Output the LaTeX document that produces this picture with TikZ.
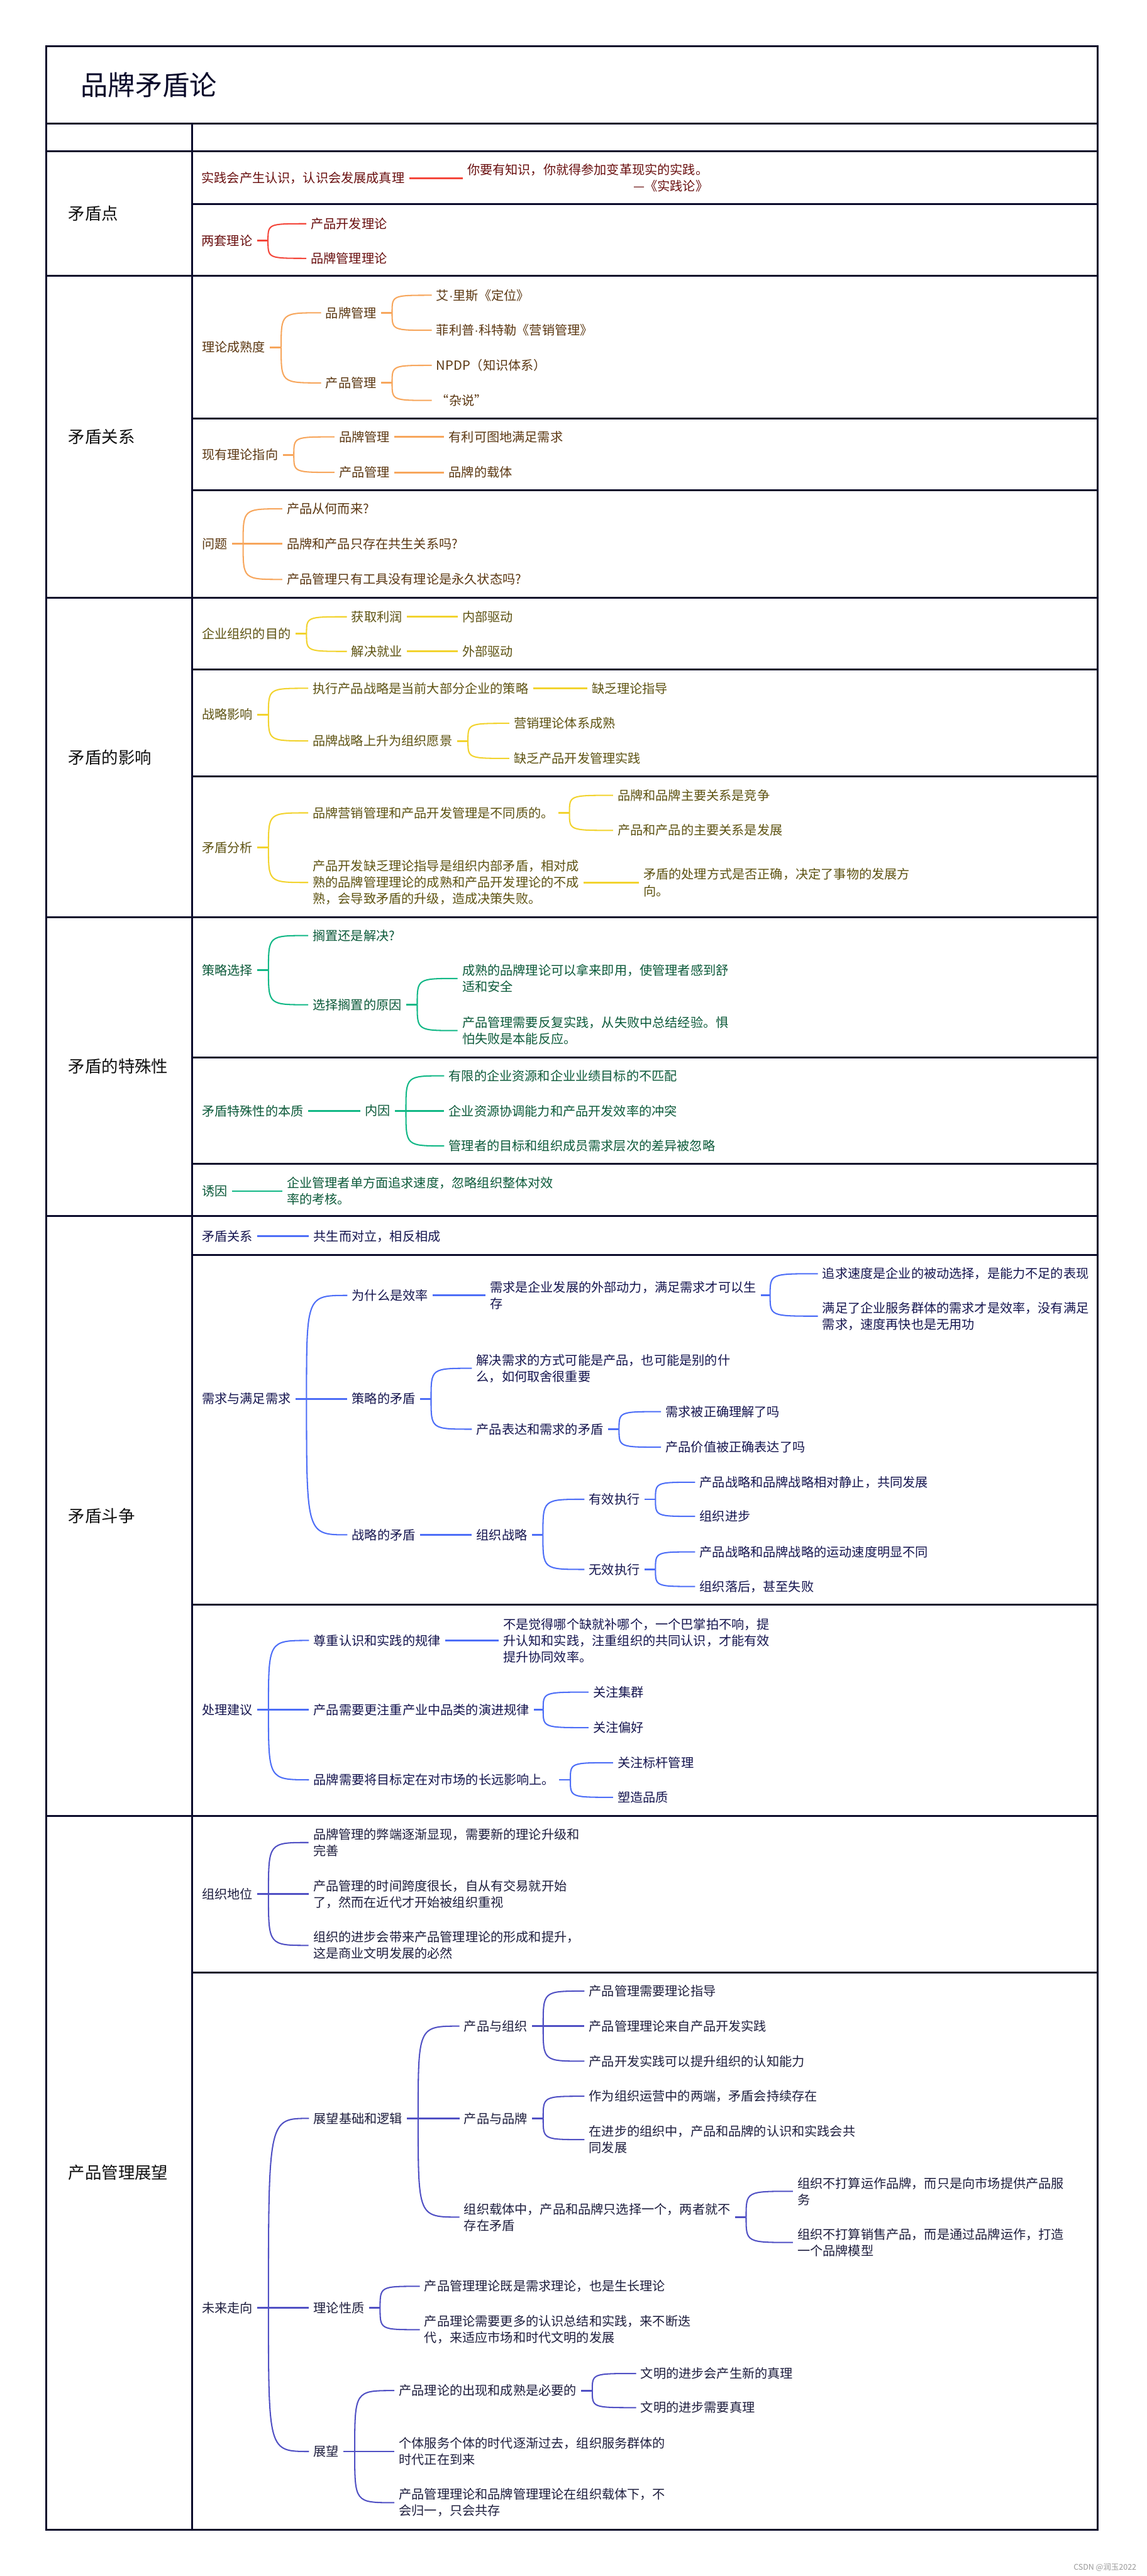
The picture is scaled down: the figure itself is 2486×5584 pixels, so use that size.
\documentclass[tikz,border=0pt]{standalone}
\usepackage{fontspec}
\setmainfont{Noto Sans CJK SC}
\newfontfamily\latf{Liberation Sans}
\usetikzlibrary{calc}
\definecolor{frameC}{HTML}{0A0A2A}
\definecolor{redL}{HTML}{F4473B}
\definecolor{redT}{HTML}{6A1010}
\definecolor{orgL}{HTML}{F7A65C}
\definecolor{orgT}{HTML}{5C3812}
\definecolor{yelL}{HTML}{F2D32E}
\definecolor{yelT}{HTML}{5E5312}
\definecolor{grnL}{HTML}{12B886}
\definecolor{grnT}{HTML}{0C5A3A}
\definecolor{bluL}{HTML}{4D6EF7}
\definecolor{bluT}{HTML}{15154F}
\definecolor{indL}{HTML}{5050C4}
\definecolor{indT}{HTML}{1E1E3E}
\definecolor{lblC}{HTML}{111111}
\newcommand{\mdot}{{\latf ·}}
\tikzset{
  base/.style={font=\fontsize{13.75pt}{17.75pt}\selectfont, anchor=west, inner sep=0pt, outer sep=5pt, xshift=-5pt, align=left},
  brc/.style={to path={.. controls (\tikztostart |- \tikztotarget) and (\tikztostart |- \tikztotarget) .. (\tikztotarget)}},
  frm/.style={draw=frameC, line width=2pt},
  lbl/.style={font=\fontsize{18pt}{22pt}\selectfont, text=lblC, anchor=west, inner sep=0pt},
  sec/.style 2 args={nd/.style={base, text=#2}, ln/.style={draw=#1, line width=2pt}, cv/.style={draw=#1, line width=1.4pt}},
}
\begin{document}
\begin{tikzpicture}[x=0.5pt,y=-0.5pt]
\fill[white] (0,0) rectangle (2486,5584);
% frame
\draw[frm] (100,100) rectangle (2380,5484);
\foreach \yy in {268,328,598,1296,1988,2636,3936}{\draw[frm] (100,\yy) -- (2380,\yy);}
\draw[frm] (416,268) -- (416,5484);
\foreach \yy in {443,907,1063,1451,1683,2292,2523,2720,3479,4276}{\draw[frm] (416,\yy) -- (2380,\yy);}
% title and labels
\node[anchor=west, inner sep=0pt, font=\fontsize{29.5pt}{34pt}\selectfont, text=frameC] (title) at (175,184) {品牌矛盾论};
\node[lbl] (L1) at (148,463) {矛盾点};
\node[lbl] (L2) at (148,947) {矛盾关系};
\node[lbl] (L3) at (148,1642) {矛盾的影响};
\node[lbl] (L4) at (148,2312) {矛盾的特殊性};
\node[lbl] (L5) at (148,3286) {矛盾斗争};
\node[lbl] (L6) at (148,4710) {产品管理展望};

% ---------- red
\begin{scope}[sec={redL}{redT}]
\node[nd] (r1) at (437,386) {实践会产生认识，认识会发展成真理};
\node[nd, align=right] (r2) at (1013,386) {你要有知识，你就得参加变革现实的实践。\\—《实践论》};
\draw[ln] (r1.east) -- (r2.west);
\node[nd] (r3) at (437,522) {两套理论};
\node[nd] (r4) at (674,485) {产品开发理论};
\node[nd] (r5) at (674,560) {品牌管理理论};
\coordinate (rb) at ([xshift=12pt]r3.east);
\draw[ln] (r3.east) -- (rb);
\draw[cv] (rb) to[brc] (r4.west);
\draw[cv] (rb) to[brc] (r5.west);
\end{scope}

% ---------- orange
\begin{scope}[sec={orgL}{orgT}]
\node[nd] (o1) at (438,753) {理论成熟度};
\node[nd] (o2) at (706,678) {品牌管理};
\node[nd] (o3) at (946,640) {艾\mdot 里斯《定位》};
\node[nd] (o4) at (946,716) {菲利普\mdot 科特勒《营销管理》};
\node[nd] (o5) at (706,830) {产品管理};
\node[nd] (o6) at (946,792) {NPDP（知识体系）};
\node[nd] (o7) at (946,868) {“杂说”};
\coordinate (ob1) at ([xshift=12pt]o1.east);
\coordinate (ob2) at ([xshift=12pt]o2.east);
\coordinate (ob3) at ([xshift=12pt]o5.east);
\draw[ln] (o1.east) -- (ob1);
\draw[cv] (ob1) to[brc] (o2.west);
\draw[cv] (ob1) to[brc] (o5.west);
\draw[ln] (o2.east) -- (ob2);
\draw[cv] (ob2) to[brc] (o3.west);
\draw[cv] (ob2) to[brc] (o4.west);
\draw[ln] (o5.east) -- (ob3);
\draw[cv] (ob3) to[brc] (o6.west);
\draw[cv] (ob3) to[brc] (o7.west);
\node[nd] (o8) at (438,986) {现有理论指向};
\node[nd] (o9) at (735,947) {品牌管理};
\node[nd] (o10) at (973,947) {有利可图地满足需求};
\node[nd] (o11) at (735,1024) {产品管理};
\node[nd] (o12) at (973,1024) {品牌的载体};
\coordinate (ob4) at ([xshift=12pt]o8.east);
\draw[ln] (o8.east) -- (ob4);
\draw[cv] (ob4) to[brc] (o9.west);
\draw[cv] (ob4) to[brc] (o11.west);
\draw[ln] (o9.east) -- (o10.west);
\draw[ln] (o11.east) -- (o12.west);
\node[nd] (o13) at (438,1179) {问题};
\node[nd] (o14) at (622,1103) {产品从何而来?};
\node[nd] (o15) at (622,1179) {品牌和产品只存在共生关系吗?};
\node[nd] (o16) at (622,1256) {产品管理只有工具没有理论是永久状态吗?};
\coordinate (ob5) at ([xshift=12pt]o13.east);
\draw[ln] (o13.east) -- (ob5);
\draw[cv] (ob5) to[brc] (o14.west);
\draw[ln] (ob5) -- (o15.west);
\draw[cv] (ob5) to[brc] (o16.west);
\end{scope}

% ---------- yellow
\begin{scope}[sec={yelL}{yelT}]
\node[nd] (y1) at (438,1374) {企业组织的目的};
\node[nd] (y2) at (762,1337) {获取利润};
\node[nd] (y3) at (1002,1337) {内部驱动};
\node[nd] (y4) at (762,1412) {解决就业};
\node[nd] (y5) at (1002,1412) {外部驱动};
\coordinate (yb1) at ([xshift=12pt]y1.east);
\draw[ln] (y1.east) -- (yb1);
\draw[cv] (yb1) to[brc] (y2.west);
\draw[cv] (yb1) to[brc] (y4.west);
\draw[ln] (y2.east) -- (y3.west);
\draw[ln] (y4.east) -- (y5.west);
\node[nd] (y6) at (438,1549) {战略影响};
\node[nd] (y7) at (678,1492) {执行产品战略是当前大部分企业的策略};
\node[nd] (y8) at (1283,1492) {缺乏理论指导};
\node[nd] (y9) at (678,1606) {品牌战略上升为组织愿景};
\node[nd] (y10) at (1114,1568) {营销理论体系成熟};
\node[nd] (y11) at (1114,1644) {缺乏产品开发管理实践};
\coordinate (yb2) at ([xshift=12pt]y6.east);
\coordinate (yb3) at ([xshift=12pt]y9.east);
\draw[ln] (y6.east) -- (yb2);
\draw[cv] (yb2) to[brc] (y7.west);
\draw[cv] (yb2) to[brc] (y9.west);
\draw[ln] (y7.east) -- (y8.west);
\draw[ln] (y9.east) -- (yb3);
\draw[cv] (yb3) to[brc] (y10.west);
\draw[cv] (yb3) to[brc] (y11.west);
\node[nd] (y12) at (438,1837) {矛盾分析};
\node[nd] (y13) at (678,1762) {品牌营销管理和产品开发管理是不同质的。};
\node[nd] (y14) at (1339,1724) {品牌和品牌主要关系是竞争};
\node[nd] (y15) at (1339,1800) {产品和产品的主要关系是发展};
\node[nd] (y16) at (678,1913) {产品开发缺乏理论指导是组织内部矛盾，相对成\\熟的品牌管理理论的成熟和产品开发理论的不成\\熟，会导致矛盾的升级，造成决策失败。};
\node[nd] (y17) at (1395,1913) {矛盾的处理方式是否正确，决定了事物的发展方\\向。};
\coordinate (yb4) at ([xshift=12pt]y12.east);
\coordinate (yb5) at ([xshift=12pt]y13.east);
\draw[ln] (y12.east) -- (yb4);
\draw[cv] (yb4) to[brc] (y13.west);
\draw[cv] (yb4) to[brc] (y16.west);
\draw[ln] (y13.east) -- (yb5);
\draw[cv] (yb5) to[brc] (y14.west);
\draw[cv] (yb5) to[brc] (y15.west);
\draw[ln] (y16.east) -- (y17.west);
\end{scope}

% ---------- green
\begin{scope}[sec={grnL}{grnT}]
\node[nd] (g1) at (438,2103) {策略选择};
\node[nd] (g2) at (678,2028) {搁置还是解决?};
\node[nd] (g3) at (678,2178) {选择搁置的原因};
\node[nd] (g4) at (1002,2121) {成熟的品牌理论可以拿来即用，使管理者感到舒\\适和安全};
\node[nd] (g5) at (1002,2234) {产品管理需要反复实践，从失败中总结经验。惧\\怕失败是本能反应。};
\coordinate (gb1) at ([xshift=12pt]g1.east);
\coordinate (gb2) at ([xshift=12pt]g3.east);
\draw[ln] (g1.east) -- (gb1);
\draw[cv] (gb1) to[brc] (g2.west);
\draw[cv] (gb1) to[brc] (g3.west);
\draw[ln] (g3.east) -- (gb2);
\draw[cv] (gb2) to[brc] (g4.west);
\draw[cv] (gb2) to[brc] (g5.west);
\node[nd] (g6) at (438,2408) {矛盾特殊性的本质};
\node[nd] (g7) at (791,2408) {内因};
\node[nd] (g8) at (973,2332) {有限的企业资源和企业业绩目标的不匹配};
\node[nd] (g9) at (973,2408) {企业资源协调能力和产品开发效率的冲突};
\node[nd] (g10) at (973,2484) {管理者的目标和组织成员需求层次的差异被忽略};
\coordinate (gb3) at ([xshift=12pt]g7.east);
\draw[ln] (g6.east) -- (g7.west);
\draw[ln] (g7.east) -- (gb3);
\draw[cv] (gb3) to[brc] (g8.west);
\draw[ln] (gb3) -- (g9.west);
\draw[cv] (gb3) to[brc] (g10.west);
\node[nd] (g11) at (438,2582) {诱因};
\node[nd] (g12) at (622,2582) {企业管理者单方面追求速度，忽略组织整体对效\\率的考核。};
\draw[ln] (g11.east) -- (g12.west);
\end{scope}

% ---------- blue
\begin{scope}[sec={bluL}{bluT}]
\node[nd] (b1) at (438,2680) {矛盾关系};
\node[nd] (b2) at (680,2680) {共生而对立，相反相成};
\draw[ln] (b1.east) -- (b2.west);
\node[nd] (b3) at (438,3032) {需求与满足需求};
\node[nd] (b4) at (763,2808) {为什么是效率};
\node[nd] (b5) at (1062,2808) {需求是企业发展的外部动力，满足需求才可以生\\存};
\node[nd] (b6) at (1783,2761) {追求速度是企业的被动选择，是能力不足的表现};
\node[nd] (b7) at (1783,2853) {满足了企业服务群体的需求才是效率，没有满足\\需求，速度再快也是无用功};
\node[nd] (b8) at (763,3032) {策略的矛盾};
\node[nd] (b9) at (1033,2966) {解决需求的方式可能是产品，也可能是别的什\\么，如何取舍很重要};
\node[nd] (b10) at (1033,3098) {产品表达和需求的矛盾};
\node[nd] (b11) at (1443,3060) {需求被正确理解了吗};
\node[nd] (b12) at (1443,3137) {产品价值被正确表达了吗};
\node[nd] (b13) at (763,3327) {战略的矛盾};
\node[nd] (b14) at (1033,3327) {组织战略};
\node[nd] (b15) at (1277,3250) {有效执行};
\node[nd] (b16) at (1517,3213) {产品战略和品牌战略相对静止，共同发展};
\node[nd] (b17) at (1517,3287) {组织进步};
\node[nd] (b18) at (1277,3402) {无效执行};
\node[nd] (b19) at (1517,3364) {产品战略和品牌战略的运动速度明显不同};
\node[nd] (b20) at (1517,3439) {组织落后，甚至失败};
\coordinate (bb1) at ([xshift=12pt]b3.east);
\coordinate (bb2) at ([xshift=10pt]b5.east);
\coordinate (bb3) at ([xshift=12pt]b8.east);
\coordinate (bb4) at ([xshift=12pt]b10.east);
\coordinate (bb5) at ([xshift=12pt]b14.east);
\coordinate (bb6) at ([xshift=12pt]b15.east);
\coordinate (bb7) at ([xshift=12pt]b18.east);
\draw[ln] (b3.east) -- (bb1);
\draw[cv] (bb1) to[brc] (b4.west);
\draw[ln] (bb1) -- (b8.west);
\draw[cv] (bb1) to[brc] (b13.west);
\draw[ln] (b4.east) -- (b5.west);
\draw[ln] (b5.east) -- (bb2);
\draw[cv] (bb2) to[brc] (b6.west);
\draw[cv] (bb2) to[brc] (b7.west);
\draw[ln] (b8.east) -- (bb3);
\draw[cv] (bb3) to[brc] (b9.west);
\draw[cv] (bb3) to[brc] (b10.west);
\draw[ln] (b10.east) -- (bb4);
\draw[cv] (bb4) to[brc] (b11.west);
\draw[cv] (bb4) to[brc] (b12.west);
\draw[ln] (b13.east) -- (b14.west);
\draw[ln] (b14.east) -- (bb5);
\draw[cv] (bb5) to[brc] (b15.west);
\draw[cv] (bb5) to[brc] (b18.west);
\draw[ln] (b15.east) -- (bb6);
\draw[cv] (bb6) to[brc] (b16.west);
\draw[cv] (bb6) to[brc] (b17.west);
\draw[ln] (b18.east) -- (bb7);
\draw[cv] (bb7) to[brc] (b19.west);
\draw[cv] (bb7) to[brc] (b20.west);
\node[nd] (b21) at (438,3706) {处理建议};
\node[nd] (b22) at (680,3556) {尊重认识和实践的规律};
\node[nd] (b23) at (1091,3556) {不是觉得哪个缺就补哪个，一个巴掌拍不响，提\\升认知和实践，注重组织的共同认识，才能有效\\提升协同效率。};
\node[nd] (b24) at (680,3706) {产品需要更注重产业中品类的演进规律};
\node[nd] (b25) at (1286,3668) {关注集群};
\node[nd] (b26) at (1286,3745) {关注偏好};
\node[nd] (b27) at (680,3858) {品牌需要将目标定在对市场的长远影响上。};
\node[nd] (b28) at (1339,3821) {关注标杆管理};
\node[nd] (b29) at (1339,3896) {塑造品质};
\coordinate (bb8) at ([xshift=12pt]b21.east);
\coordinate (bb9) at ([xshift=10pt]b24.east);
\coordinate (bb10) at ([xshift=12pt]b27.east);
\draw[ln] (b21.east) -- (bb8);
\draw[cv] (bb8) to[brc] (b22.west);
\draw[ln] (bb8) -- (b24.west);
\draw[cv] (bb8) to[brc] (b27.west);
\draw[ln] (b22.east) -- (b23.west);
\draw[ln] (b24.east) -- (bb9);
\draw[cv] (bb9) to[brc] (b25.west);
\draw[cv] (bb9) to[brc] (b26.west);
\draw[ln] (b27.east) -- (bb10);
\draw[cv] (bb10) to[brc] (b28.west);
\draw[cv] (bb10) to[brc] (b29.west);
\end{scope}

% ---------- indigo
\begin{scope}[sec={indL}{indT}]
\node[nd] (p1) at (438,4106) {组织地位};
\node[nd] (p2) at (679,3994) {品牌管理的弊端逐渐显现，需要新的理论升级和\\完善};
\node[nd] (p3) at (679,4106) {产品管理的时间跨度很长，自从有交易就开始\\了，然而在近代才开始被组织重视};
\node[nd] (p4) at (679,4217) {组织的进步会带来产品管理理论的形成和提升，\\这是商业文明发展的必然};
\coordinate (pb1) at ([xshift=12pt]p1.east);
\draw[ln] (p1.east) -- (pb1);
\draw[cv] (pb1) to[brc] (p2.west);
\draw[ln] (pb1) -- (p3.west);
\draw[cv] (pb1) to[brc] (p4.west);
\node[nd] (p5) at (438,5003) {未来走向};
\node[nd] (p6) at (680,4592) {展望基础和逻辑};
\node[nd] (p7) at (1006,4392) {产品与组织};
\node[nd] (p8) at (1277,4316) {产品管理需要理论指导};
\node[nd] (p9) at (1277,4392) {产品管理理论来自产品开发实践};
\node[nd] (p10) at (1277,4468) {产品开发实践可以提升组织的认知能力};
\node[nd] (p11) at (1006,4592) {产品与品牌};
\node[nd] (p12) at (1277,4544) {作为组织运营中的两端，矛盾会持续存在};
\node[nd] (p13) at (1277,4638) {在进步的组织中，产品和品牌的认识和实践会共\\同发展};
\node[nd] (p14) at (1006,4806) {组织载体中，产品和品牌只选择一个，两者就不\\存在矛盾};
\node[nd] (p15) at (1729,4750) {组织不打算运作品牌，而只是向市场提供产品服\\务};
\node[nd] (p16) at (1729,4861) {组织不打算销售产品，而是通过品牌运作，打造\\一个品牌模型};
\node[nd] (p17) at (680,5003) {理论性质};
\node[nd] (p18) at (920,4956) {产品管理理论既是需求理论，也是生长理论};
\node[nd] (p19) at (920,5050) {产品理论需要更多的认识总结和实践，来不断迭\\代，来适应市场和时代文明的发展};
\node[nd] (p20) at (680,5314) {展望};
\node[nd] (p21) at (865,5182) {产品理论的出现和成熟是必要的};
\node[nd] (p22) at (1389,5145) {文明的进步会产生新的真理};
\node[nd] (p23) at (1389,5219) {文明的进步需要真理};
\node[nd] (p24) at (865,5314) {个体服务个体的时代逐渐过去，组织服务群体的\\时代正在到来};
\node[nd] (p25) at (865,5425) {产品管理理论和品牌管理理论在组织载体下，不\\会归一，只会共存};
\coordinate (pb2) at ([xshift=12pt]p5.east);
\coordinate (pb3) at ([xshift=12pt]p6.east);
\coordinate (pb4) at ([xshift=12pt]p7.east);
\coordinate (pb5) at ([xshift=12pt]p11.east);
\coordinate (pb6) at ([xshift=12pt]p14.east);
\coordinate (pb7) at ([xshift=12pt]p17.east);
\coordinate (pb8) at ([xshift=12pt]p20.east);
\coordinate (pb9) at ([xshift=12pt]p21.east);
\draw[ln] (p5.east) -- (pb2);
\draw[cv] (pb2) to[brc] (p6.west);
\draw[ln] (pb2) -- (p17.west);
\draw[cv] (pb2) to[brc] (p20.west);
\draw[ln] (p6.east) -- (pb3);
\draw[cv] (pb3) to[brc] (p7.west);
\draw[ln] (pb3) -- (p11.west);
\draw[cv] (pb3) to[brc] (p14.west);
\draw[ln] (p7.east) -- (pb4);
\draw[cv] (pb4) to[brc] (p8.west);
\draw[ln] (pb4) -- (p9.west);
\draw[cv] (pb4) to[brc] (p10.west);
\draw[ln] (p11.east) -- (pb5);
\draw[cv] (pb5) to[brc] (p12.west);
\draw[cv] (pb5) to[brc] (p13.west);
\draw[ln] (p14.east) -- (pb6);
\draw[cv] (pb6) to[brc] (p15.west);
\draw[cv] (pb6) to[brc] (p16.west);
\draw[ln] (p17.east) -- (pb7);
\draw[cv] (pb7) to[brc] (p18.west);
\draw[cv] (pb7) to[brc] (p19.west);
\draw[ln] (p20.east) -- (pb8);
\draw[cv] (pb8) to[brc] (p21.west);
\draw[ln] (pb8) -- (p24.west);
\draw[cv] (pb8) to[brc] (p25.west);
\draw[ln] (p21.east) -- (pb9);
\draw[cv] (pb9) to[brc] (p22.west);
\draw[cv] (pb9) to[brc] (p23.west);
\end{scope}

\node[anchor=east, inner sep=0pt, font=\fontsize{8.5pt}{10pt}\selectfont, text=black!40] (wm) at (2464,5565) {CSDN @润玉2022};
\end{tikzpicture}
\end{document}
